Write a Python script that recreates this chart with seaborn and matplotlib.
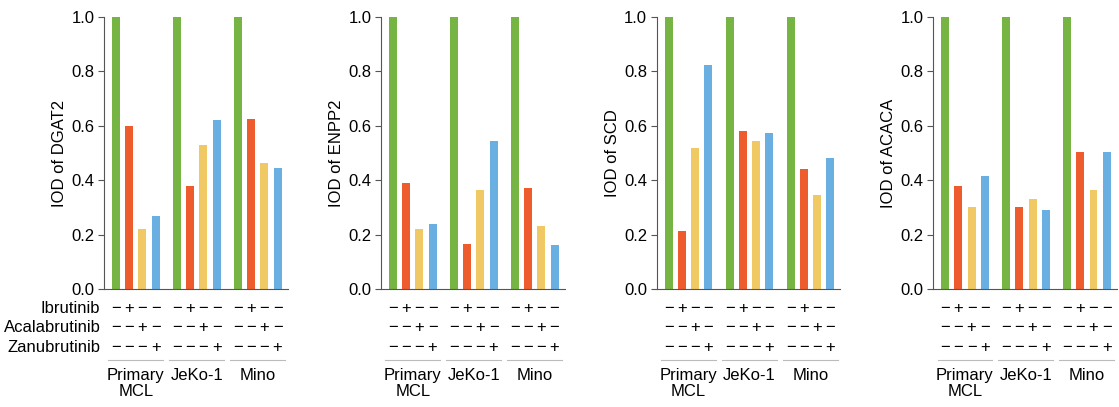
import matplotlib
matplotlib.use('Agg')
import matplotlib.pyplot as plt
import pandas as pd
import seaborn as sns

cell_lines = ['Primary\nMCL', 'JeKo-1', 'Mino']
treatments = ['Control', 'Ibrutinib', 'Acalabrutinib', 'Zanubrutinib']
colors = ['#76b443', '#ee5b2d', '#f1c964', '#6aafe1']

genes = ['DGAT2', 'ENPP2', 'SCD', 'ACACA']

# values per cell line, order: control, ibrutinib, acalabrutinib, zanubrutinib
dgat2 = [[1.0, 0.60, 0.22, 0.27], [1.0, 0.38, 0.53, 0.62], [1.0, 0.625, 0.465, 0.445]]
enpp2 = [[1.0, 0.39, 0.22, 0.24], [1.0, 0.165, 0.365, 0.545], [1.0, 0.37, 0.23, 0.16]]
scd = [[1.0, 0.215, 0.52, 0.825], [1.0, 0.58, 0.545, 0.575], [1.0, 0.44, 0.345, 0.48]]
acaca = [[1.0, 0.38, 0.30, 0.415], [1.0, 0.30, 0.33, 0.29], [1.0, 0.505, 0.365, 0.505]]

gene_values = [dgat2, enpp2, scd, acaca]

# sign table below each panel (rows: drugs, cols: treatment groups)
sign_rows = ['Ibrutinib', 'Acalabrutinib', 'Zanubrutinib']
signs = [['\u2212', '+', '\u2212', '\u2212'],
         ['\u2212', '\u2212', '+', '\u2212'],
         ['\u2212', '\u2212', '\u2212', '+']]

plt.rcParams['font.family'] = ['Liberation Sans', 'DejaVu Sans']
plt.rcParams['font.size'] = 11

fig = plt.figure(figsize=(11.19, 4.07), dpi=100)
lefts = [0.093, 0.3405, 0.587, 0.834]
bar_width = 0.87

for i, gene in enumerate(genes):
    rows = []
    for c, cell in enumerate(cell_lines):
        for t, treat in enumerate(treatments):
            rows.append({'cell': cell, 'treatment': treat, 'value': gene_values[i][c][t]})
    df = pd.DataFrame(rows)

    ax = fig.add_axes([lefts[i], 0.29, 0.164, 0.668])
    sns.barplot(data=df, x='cell', y='value', hue='treatment', hue_order=treatments,
                palette=colors, width=bar_width, gap=0.4, saturation=1, legend=False,
                errorbar=None, ax=ax)
    ax.set_ylim(0, 1.0)
    ax.set_xlim(-0.52, 2.49)
    ax.set_yticks([0, 0.2, 0.4, 0.6, 0.8, 1.0])
    ax.set_yticklabels(['0.0', '0.2', '0.4', '0.6', '0.8', '1.0'], fontsize=12)
    ax.set_xticks([])
    ax.set_xlabel('')
    ax.set_ylabel(f'IOD of {gene}', fontsize=12, labelpad=3)
    for s in ['top', 'right']:
        ax.spines[s].set_visible(False)
    ax.spines['left'].set_color('#555555')
    ax.spines['bottom'].set_color('#555555')
    ax.tick_params(axis='y', length=4, width=0.8, color='#555555', pad=3)
    for p in ax.patches:
        p.set_clip_on(False)

    trans = ax.get_xaxis_transform()
    slot = bar_width / 4
    row_y = [-0.07, -0.143, -0.216]
    for c in range(len(cell_lines)):
        for r in range(3):
            for t in range(4):
                x = c + (t - 1.5) * slot
                ax.text(x, row_y[r], signs[r][t], transform=trans, ha='center', va='center',
                        fontsize=12, clip_on=False)
        ax.plot([c - 0.45, c + 0.45], [-0.262, -0.262], transform=trans, color='#bbbbbb',
                lw=0.8, clip_on=False)
        ax.text(c, -0.29, cell_lines[c], transform=trans, ha='center', va='top',
                fontsize=12, linespacing=1.1)

    if i == 0:
        for r in range(3):
            ax.text(-0.02, row_y[r], sign_rows[r], transform=ax.transAxes, ha='right',
                    va='center', fontsize=12)

fig.savefig('out.png', dpi=100)
